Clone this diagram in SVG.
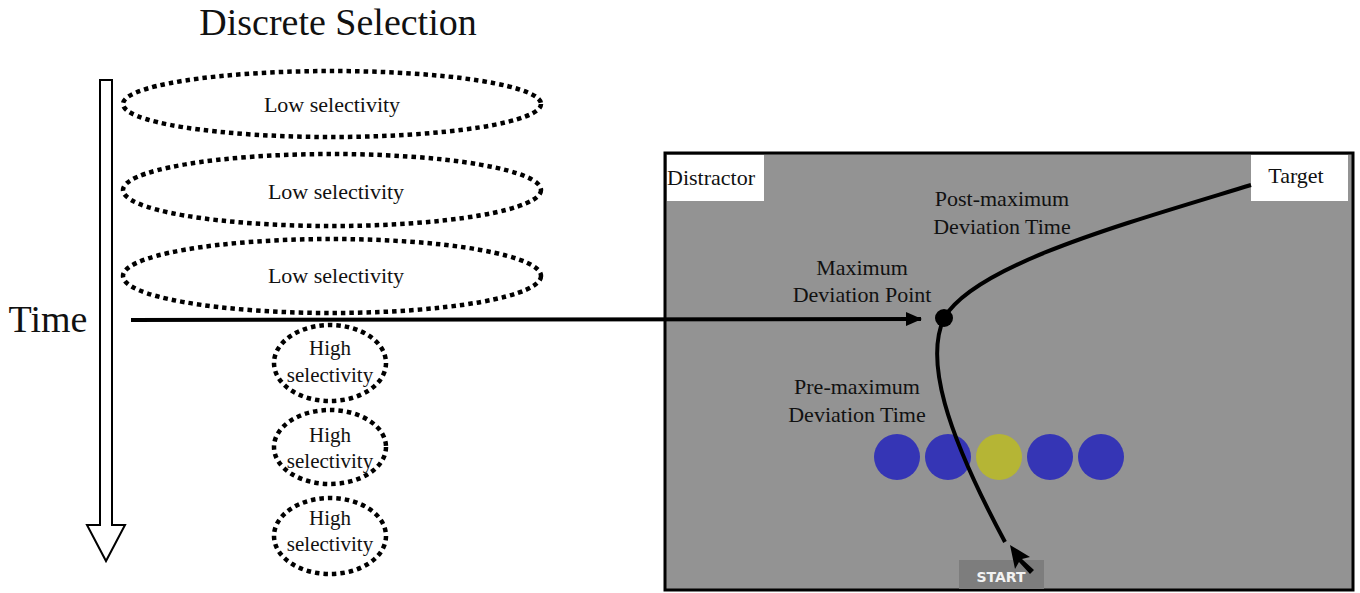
<svg xmlns="http://www.w3.org/2000/svg" width="1360" height="593" viewBox="0 0 1360 593">
<style>
.t{font-family:"Liberation Serif","Times New Roman",serif;fill:#111;text-anchor:middle}
.dot{fill:none;stroke:#000;stroke-width:4.5;stroke-dasharray:4.5 4}
.ball{stroke:none}
</style>
<defs>
<marker id="ah" markerWidth="16" markerHeight="14" refX="15" refY="7" orient="auto" markerUnits="userSpaceOnUse">
<path d="M0,0 L16,7 L0,14 z" fill="#000"/>
</marker>
</defs>
<rect width="1360" height="593" fill="#fff"/>
<text class="t" x="338" y="35" font-size="38">Discrete Selection</text>
<text class="t" x="48" y="332" font-size="38">Time</text>
<g id="time-arrow">
<path d="M100,80 H112 V525 H125 L106,561 L87,525 H100 Z" fill="#fff" stroke="#000" stroke-width="2"/>
</g>
<g id="low1"><ellipse class="dot" cx="332" cy="104" rx="209" ry="33"/><text class="t" x="332" y="112" font-size="22">Low selectivity</text></g>
<g id="low2"><ellipse class="dot" cx="332" cy="190" rx="209" ry="36"/><text class="t" x="336" y="199" font-size="22">Low selectivity</text></g>
<g id="low3"><ellipse class="dot" cx="332" cy="276" rx="209" ry="37"/><text class="t" x="336" y="283" font-size="22">Low selectivity</text></g>
<g id="high1"><ellipse class="dot" cx="330" cy="363" rx="56" ry="38"/><text class="t" x="330" y="355" font-size="21">High</text><text class="t" x="330" y="382" font-size="21">selectivity</text></g>
<g id="high2"><ellipse class="dot" cx="330" cy="447" rx="56" ry="37"/><text class="t" x="330" y="442" font-size="21">High</text><text class="t" x="330" y="468" font-size="21">selectivity</text></g>
<g id="high3"><ellipse class="dot" cx="330" cy="536" rx="56" ry="38"/><text class="t" x="330" y="525" font-size="21">High</text><text class="t" x="330" y="551" font-size="21">selectivity</text></g>
<g id="panel">
<rect x="665" y="153" width="688" height="437" fill="#939393" stroke="#000" stroke-width="3"/>
<rect x="667" y="155" width="97" height="46" fill="#fff"/>
<rect x="1251" y="155" width="97" height="46" fill="#fff"/>
<text class="t" x="711" y="185" font-size="22">Distractor</text>
<text class="t" x="1296" y="183" font-size="22">Target</text>
<text class="t" x="1002" y="206" font-size="22">Post-maximum</text>
<text class="t" x="1002" y="234" font-size="22">Deviation Time</text>
<text class="t" x="862" y="275" font-size="22">Maximum</text>
<text class="t" x="862" y="302" font-size="22">Deviation Point</text>
<text class="t" x="857" y="394" font-size="22">Pre-maximum</text>
<text class="t" x="857" y="422" font-size="22">Deviation Time</text>
<circle class="ball" cx="897" cy="457" r="23" fill="#3535b5"/>
<circle class="ball" cx="948" cy="457" r="23" fill="#3535b5"/>
<circle class="ball" cx="999" cy="457" r="23" fill="#b5b535"/>
<circle class="ball" cx="1050" cy="457" r="23" fill="#3535b5"/>
<circle class="ball" cx="1101" cy="457" r="23" fill="#3535b5"/>
<rect x="959" y="560" width="85" height="29" fill="#7d7d7d"/>
<text x="1001" y="582" font-size="14" font-weight="bold" fill="#f2f2f2" text-anchor="middle" font-family="'DejaVu Sans',Verdana,sans-serif">START</text>
</g>
<g id="connectors">
<line x1="131" y1="320" x2="921" y2="319" stroke="#000" stroke-width="4" marker-end="url(#ah)"/>
<path d="M1251,185 C1120,225 975,265 944,318 C925,360 945,430 1005,542" fill="none" stroke="#000" stroke-width="4"/>
<circle cx="944" cy="318" r="9" fill="#000"/>
<path d="M1010,545 L1030,557 L1022,559 L1034,570 L1030,574 L1019,562 L1015,569 Z" fill="#000"/>
</g>
</svg>
